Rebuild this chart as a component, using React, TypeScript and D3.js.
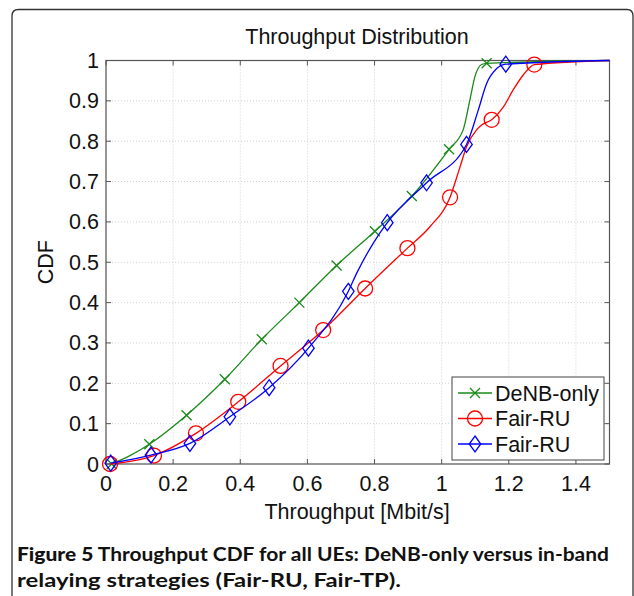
import React from "react";
import * as d3 from "d3";

const xTicks = [0, 0.2, 0.4, 0.6, 0.8, 1, 1.2, 1.4];
const yTicks = [0, 0.1, 0.2, 0.3, 0.4, 0.5, 0.6, 0.7, 0.8, 0.9, 1];
const xTickLabels = ["0", "0.2", "0.4", "0.6", "0.8", "1", "1.2", "1.4"];
const yTickLabels = ["0", "0.1", "0.2", "0.3", "0.4", "0.5", "0.6", "0.7", "0.8", "0.9", "1"];

const seriesNames = ["DeNB-only", "Fair-RU", "Fair-RU"];
const seriesColors = ["#1a8a1a", "#ff0000", "#0000ff"];
const seriesMarkers = ["x", "o", "d"];

// marker points
const greenMarkX = [0.017, 0.129, 0.24, 0.354, 0.464, 0.576, 0.687, 0.801, 0.911, 1.022, 1.134];
const greenMarkY = [0, 0.049, 0.121, 0.21, 0.309, 0.4, 0.492, 0.577, 0.664, 0.78, 0.993];
const redMarkX = [0.012, 0.143, 0.268, 0.394, 0.52, 0.647, 0.772, 0.898, 1.025, 1.149, 1.276];
const redMarkY = [0, 0.021, 0.076, 0.154, 0.243, 0.332, 0.435, 0.535, 0.661, 0.853, 0.99];
const blueMarkX = [0.014, 0.134, 0.25, 0.369, 0.486, 0.603, 0.722, 0.838, 0.955, 1.074, 1.191];
const blueMarkY = [0.002, 0.022, 0.051, 0.117, 0.189, 0.287, 0.428, 0.598, 0.697, 0.792, 0.991];

// additional curve points between markers
const greenExtraX = [0.07, 1.064, 1.084, 1.099, 1.119, 1.5];
const greenExtraY = [0.02, 0.828, 0.902, 0.96, 0.99, 1.0];
const redExtraX = [0.965, 1.055, 1.074, 1.104, 1.119, 1.184, 1.213, 1.243, 1.5];
const redExtraY = [0.588, 0.737, 0.786, 0.828, 0.84, 0.885, 0.927, 0.964, 1.0];
const blueExtraX = [0.747, 0.796, 1.109, 1.134, 1.164, 1.5];
const blueExtraY = [0.473, 0.547, 0.877, 0.943, 0.98, 1.0];

const markX = [greenMarkX, redMarkX, blueMarkX];
const markY = [greenMarkY, redMarkY, blueMarkY];
const extraX = [greenExtraX, redExtraX, blueExtraX];
const extraY = [greenExtraY, redExtraY, blueExtraY];

const FONT = "'Liberation Sans', Arial, Helvetica, sans-serif";
const CAPFONT = "Lato, 'Open Sans', sans-serif";

function Marker({ type, x, y, color }: { type: string; x: number; y: number; color: string }) {
  if (type === "x") {
    const s = 5;
    return (
      <path d={`M${x - s},${y - s}L${x + s},${y + s}M${x - s},${y + s}L${x + s},${y - s}`} stroke={color} strokeWidth={1.3} fill="none" />
    );
  }
  if (type === "o") {
    return <circle cx={x} cy={y} r={7.5} stroke={color} strokeWidth={1.3} fill="none" />;
  }
  const s = 8;
  return (
    <path d={`M${x},${y - s}L${x + s * 0.72},${y}L${x},${y + s}L${x - s * 0.72},${y}Z`} stroke={color} strokeWidth={1.3} fill="none" />
  );
}

export default function App() {
  const W = 634, H = 596;
  const left = 106, right = 609.5, top = 60.5, bottom = 464;
  const x = d3.scaleLinear().domain([0, 1.5]).range([left, right]);
  const y = d3.scaleLinear().domain([0, 1]).range([bottom, top]);
  const line = d3
    .line<[number, number]>()
    .x((d) => x(d[0]))
    .y((d) => y(d[1]))
    .curve(d3.curveMonotoneX);

  const series = seriesNames.map((name, i) => {
    const pts: [number, number][] = [];
    markX[i].forEach((v, j) => pts.push([v, markY[i][j]]));
    extraX[i].forEach((v, j) => pts.push([v, extraY[i][j]]));
    pts.sort((a, b) => a[0] - b[0]);
    return { name, pts, color: seriesColors[i], marker: seriesMarkers[i], i };
  });

  const axisColor = "#555";
  const legX = 452, legY = 377, legW = 152, legH = 83;
  const fs = 21.5;

  return (
    <svg width={W} height={H} style={{ position: "absolute", left: 0, top: 0 }}>
      <rect x={0} y={0} width={W} height={H} fill="#fff" />
      <path d={`M12,${H + 5}L12,16Q12,9.5 18.5,9.5L627,9.5Q633,9.5 633,16L633,${H + 5}`} fill="none" stroke="#333" strokeWidth={1.3} />

      <text x={357} y={44} textAnchor="middle" fontFamily={FONT} fontSize={21.5} fill="#111">
        Throughput Distribution
      </text>

      {/* grid */}
      {xTicks.map((t) => (
        <line key={"gx" + t} x1={x(t)} x2={x(t)} y1={top} y2={bottom} stroke="#d0d0d0" strokeWidth={1} strokeDasharray="1,2" />
      ))}
      {yTicks.map((t) => (
        <line key={"gy" + t} x1={left} x2={right} y1={y(t)} y2={y(t)} stroke="#d0d0d0" strokeWidth={1} strokeDasharray="1,2" />
      ))}

      {/* ticks */}
      {xTicks.map((t) => (
        <g key={"tx" + t}>
          <line x1={x(t)} x2={x(t)} y1={bottom} y2={bottom - 5} stroke={axisColor} />
          <line x1={x(t)} x2={x(t)} y1={top} y2={top + 5} stroke={axisColor} />
        </g>
      ))}
      {yTicks.map((t) => (
        <g key={"ty" + t}>
          <line x1={left} x2={left + 5} y1={y(t)} y2={y(t)} stroke={axisColor} />
          <line x1={right} x2={right - 5} y1={y(t)} y2={y(t)} stroke={axisColor} />
        </g>
      ))}
      <rect x={left} y={top} width={right - left} height={bottom - top} fill="none" stroke={axisColor} strokeWidth={1.2} />

      {/* tick labels */}
      {xTicks.map((t, i) => (
        <text key={"lx" + t} x={x(t)} y={bottom + 27} textAnchor="middle" fontFamily={FONT} fontSize={fs} fill="#111">
          {xTickLabels[i]}
        </text>
      ))}
      {yTicks.map((t, i) => (
        <text key={"ly" + t} x={left - 7} y={y(t) + 7.5} textAnchor="end" fontFamily={FONT} fontSize={fs} fill="#111">
          {yTickLabels[i]}
        </text>
      ))}

      <text x={357} y={519} textAnchor="middle" fontFamily={FONT} fontSize={fs} fill="#111">
        Throughput [Mbit/s]
      </text>
      <text transform={`translate(53,${(top + bottom) / 2}) rotate(-90)`} textAnchor="middle" fontFamily={FONT} fontSize={fs} fill="#111">
        CDF
      </text>

      {/* series */}
      {series.map((s) => (
        <g key={"s" + s.i}>
          <path d={line(s.pts) || ""} fill="none" stroke={s.color} strokeWidth={1.3} />
          {markX[s.i].map((v, j) => (
            <Marker key={j} type={s.marker} x={x(v)} y={y(markY[s.i][j])} color={s.color} />
          ))}
        </g>
      ))}

      {/* legend */}
      <rect x={legX} y={legY} width={legW} height={legH} fill="#fff" stroke="#444" strokeWidth={1} />
      {series.map((s, k) => {
        const ly = legY + 16 + k * 25.5;
        return (
          <g key={"lg" + k}>
            <line x1={legX + 6} x2={legX + 40} y1={ly} y2={ly} stroke={s.color} strokeWidth={1.3} />
            <Marker type={s.marker} x={legX + 23} y={ly} color={s.color} />
            <text x={legX + 43} y={ly + 7.5} fontFamily={FONT} fontSize={fs} fill="#111">
              {s.name}
            </text>
          </g>
        );
      })}

      {/* caption */}
      <text x={17} y={561} fontFamily={CAPFONT} fontSize={18.5} fill="#111" textLength={592} lengthAdjust="spacingAndGlyphs">
        <tspan fontWeight={900}>Figure 5</tspan>
        <tspan fontWeight={700}> Throughput CDF for all UEs: DeNB-only versus in-band</tspan>
      </text>
      <text x={17} y={587} fontFamily={CAPFONT} fontSize={18.5} fontWeight={700} fill="#111" textLength={384} lengthAdjust="spacingAndGlyphs">
        relaying strategies (Fair-RU, Fair-TP).
      </text>
    </svg>
  );
}
